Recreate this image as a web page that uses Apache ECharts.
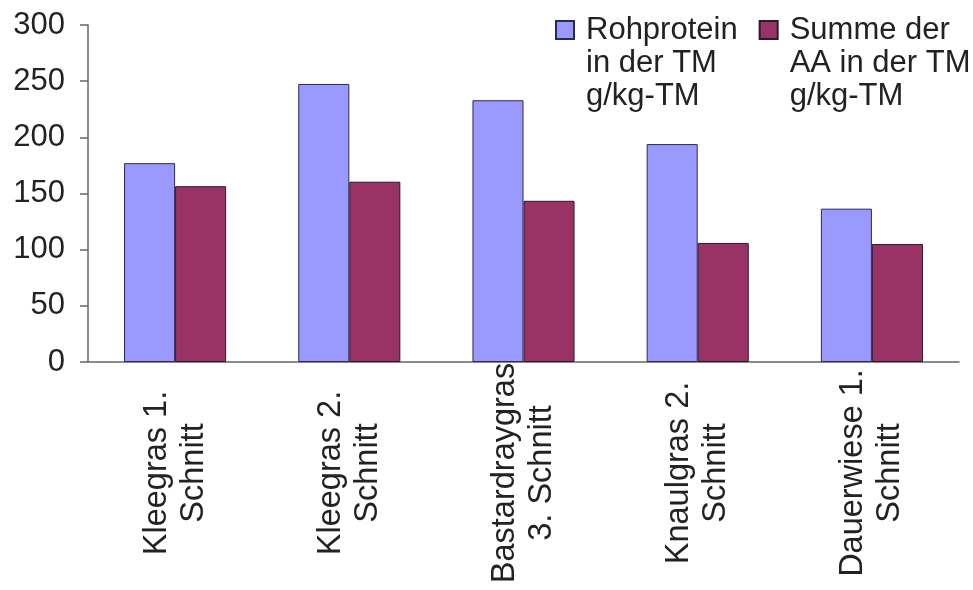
<!DOCTYPE html>
<html>
<head>
<meta charset="utf-8">
<script src="https://cdn.jsdelivr.net/npm/echarts@6/dist/echarts.min.js"></script>
<style>
html,body{margin:0;padding:0;background:#fff;}
#chart{width:973px;height:590px;}
</style>
</head>
<body>
<div id="chart"></div>
<script>
var categories = ['Kleegras 1.\nSchnitt', 'Kleegras 2.\nSchnitt', 'Bastardraygras\n3. Schnitt', 'Knaulgras 2.\nSchnitt', 'Dauerwiese 1.\nSchnitt'];
var seriesNames = ['Rohprotein\nin der TM\ng/kg-TM', 'Summe der\nAA in der TM\ng/kg-TM'];
var rohprotein = [177, 247.5, 233, 194, 136.5];
var summeAA = [156.5, 160.5, 143.5, 106, 105];
var yTicks = {min: 0, max: 300, interval: 50};

var FONT = '"Liberation Sans", Arial, sans-serif';
var chart = echarts.init(document.getElementById('chart'));
chart.setOption({
  backgroundColor: '#ffffff',
  animation: false,
  grid: {left: 88, right: 14, top: 25, bottom: 228, containLabel: false, outerBoundsMode: 'none'},
  legend: {
    left: 555, top: -52.5, padding: 0,
    itemWidth: 18, itemHeight: 18, itemGap: 21,
    icon: 'rect',
    width: 418,
    formatter: function (name) { return '\n\n' + name; },
    textStyle: {fontSize: 31, lineHeight: 33, color: '#222', fontFamily: FONT, padding: [0, 0, 0, 7]},
    data: seriesNames
  },
  xAxis: {
    type: 'category',
    data: categories,
    axisLine: {lineStyle: {color: '#666', width: 1.5}},
    axisTick: {lineStyle: {color: '#666', width: 1.5}, length: 7},
    axisLabel: {
      rotate: 90, align: 'center', verticalAlign: 'middle', margin: 111,
      fontSize: 32.5, lineHeight: 37, color: '#222', fontFamily: FONT,
      interval: 0
    }
  },
  yAxis: {
    type: 'value',
    min: yTicks.min, max: yTicks.max, interval: yTicks.interval,
    axisLine: {show: true, lineStyle: {color: '#666', width: 1.5}},
    axisTick: {show: true, lineStyle: {color: '#666', width: 1.5}, length: 8},
    splitLine: {show: false},
    axisLabel: {fontSize: 31, color: '#222', fontFamily: FONT, margin: 23}
  },
  series: [
    {
      name: seriesNames[0], type: 'bar', data: rohprotein,
      barGap: '0%', barCategoryGap: '41.4%',
      itemStyle: {color: '#9999FF', borderColor: '#2a2a55', borderWidth: 1}
    },
    {
      name: seriesNames[1], type: 'bar', data: summeAA,
      barGap: '0%', barCategoryGap: '41.4%',
      itemStyle: {color: '#993366', borderColor: '#2a1a2a', borderWidth: 1}
    }
  ]
});
</script>
</body>
</html>
